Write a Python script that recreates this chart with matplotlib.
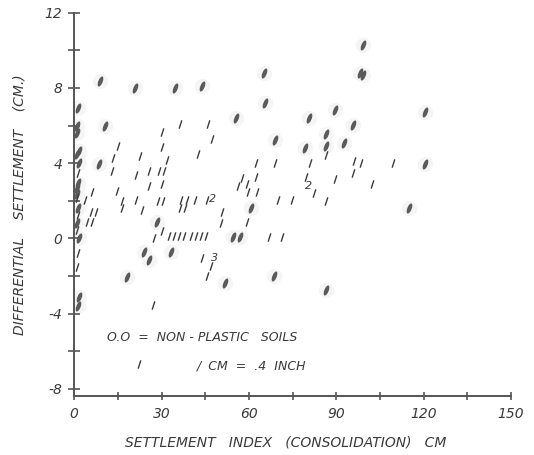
import numpy as np
import matplotlib
matplotlib.use('Agg')
from matplotlib import pyplot as plt
from matplotlib.path import Path
from matplotlib.transforms import Affine2D

# non-plastic soils ("0" marks)
np_x = [8.8, 20.8, 34.6, 43.8, 10.6, 8.6, 28.4, 24.0, 25.7, 33.2, 18.2, 54.5, 56.8,
        60.6, 68.5, 51.7, 86.3, 99.0, 98.2, 99.2, 65.1, 65.4, 55.5, 89.7, 80.5, 95.9,
        86.3, 68.8, 79.1, 86.6, 92.8, 120.5, 120.5, 115.1,
        1.2, 0.8, 0.8, 1.5, 1.0, 1.5, 1.2, 0.8, 1.0, 1.2, 1.0, 1.5, 1.8, 1.2]
np_y = [8.36, 7.97, 7.97, 8.1, 6.0, 3.97, 0.85, -0.74, -1.16, -0.74, -2.06, 0.05, 0.05,
        1.59, -2.0, -2.38, -2.75, 10.3, 8.8, 8.7, 8.78, 7.2, 6.4, 6.83, 6.4, 6.03,
        5.56, 5.24, 4.81, 4.92, 5.08, 6.72, 3.97, 1.59,
        6.93, 5.98, 5.61, 4.66, 4.5, 4.02, 2.96, 2.7, 2.38, 1.59, 0.79, 0.0, -3.12, -3.6]

# plastic soils, single points ("1" marks)
pl_x = [36.3, 45.9, 30.1, 47.3, 15.1, 30.1, 13.4, 22.6, 31.8, 42.5, 13.0, 21.2, 25.7,
        29.1, 30.8, 25.7, 30.1, 6.2, 14.7, 3.8, 16.4, 21.2, 28.8, 30.5, 36.6, 38.7,
        41.4, 45.5, 16.4, 23.3, 36.3, 38.0, 5.8, 7.5, 4.5, 6.2, 30.1, 27.4,
        32.5, 34.2, 35.9, 37.7, 40.1, 41.8, 43.5, 45.2, 43.8, 46.9, 45.5, 27.1, 22.3,
        62.3, 68.8, 80.8, 86.6, 96.2, 98.6, 109.6, 57.5, 62.3, 79.5, 89.7, 95.9,
        56.2, 59.2, 82.2, 59.6, 62.7, 69.9, 74.7, 86.6, 102.1, 50.7, 50.3, 59.2,
        66.8, 71.2,
        1.3, 1.0, 1.2, 1.0, 1.3, 1.1]
pl_y = [6.08, 6.08, 5.66, 5.29, 4.92, 4.87, 4.29, 4.39, 4.18, 4.5, 3.6, 3.39, 3.6,
        3.6, 3.6, 2.8, 2.91, 2.49, 2.54, 2.06, 2.01, 2.06, 2.01, 2.01, 2.06, 2.06,
        2.06, 2.06, 1.59, 1.53, 1.59, 1.59, 1.38, 1.38, 0.85, 0.85, 0.4, 0.0,
        0.1, 0.1, 0.1, 0.1, 0.1, 0.1, 0.1, 0.1, -1.06, -1.48, -2.0, -3.54, -6.7,
        4.02, 4.02, 4.02, 4.42, 4.13, 4.02, 4.02, 3.23, 3.28, 3.28, 3.17, 3.49,
        2.8, 2.91, 2.43, 2.49, 2.49, 2.06, 2.06, 1.96, 2.91, 1.38, 0.79, 0.85,
        0.05, 0.05,
        3.49, 2.12, 1.22, 0.42, -0.79, -1.53]

# multiple plastic points at one spot
multi_x = [47.6, 80.5, 48.3]
multi_y = [2.1, 2.8, -1.06]
multi_n = ['2', '2', '3']

ink = '#3a3a3a'
font = dict(family='DejaVu Sans', style='italic', color=ink)

slash = Path([(-0.32, -1.0), (0.32, 1.0)], [Path.MOVETO, Path.LINETO])
oval = Path.unit_circle().transformed(Affine2D().scale(0.4, 1.0).rotate_deg(-22))

fig = plt.figure(figsize=(5.34, 4.55), dpi=100)
ax = fig.add_axes([0.139, 0.130, 0.818, 0.842])

# faint halo around the non-plastic marks, then the marks
ax.plot(np_x, np_y, linestyle='none', marker='o', markersize=11,
        color='#f5f5f5', markeredgewidth=0, zorder=1)
ax.plot(np_x, np_y, linestyle='none', marker=oval, markersize=7.5,
        color='#5a5a5a', markeredgewidth=0, zorder=2)
ax.plot(pl_x, pl_y, linestyle='none', marker=slash, markersize=6,
        markerfacecolor='none', markeredgecolor=ink, markeredgewidth=1.0, zorder=3)
for x, y, n in zip(multi_x, multi_y, multi_n):
    ax.text(x, y, n, fontsize=8, ha='center', va='center', **font)

ax.text(11.3, -5.27, 'O.O  =  NON - PLASTIC   SOILS', fontsize=9, va='center', **font)
ax.text(42.1, -6.8, '/  CM  =  .4  INCH', fontsize=9, va='center', **font)

ax.set_xlim(0, 150)
ax.set_ylim(-8.38, 12)
ax.set_xticks([0, 30, 60, 90, 120, 150])
ax.set_xticks(np.arange(15, 150, 30), minor=True)
ax.set_yticks([-8, -4, 0, 4, 8, 12])
ax.set_yticks([-6, -2, 2, 6, 10], minor=True)
ax.set_xticklabels(['0', '30', '60', '90', '120', '150'], fontsize=10, **font)
ax.set_yticklabels(['-8', '-4', '0', '4', '8', '12'], fontsize=10, **font)

for s in ['top', 'right']:
    ax.spines[s].set_visible(False)
for s in ['left', 'bottom']:
    ax.spines[s].set_color('#555555')
    ax.spines[s].set_linewidth(1.4)
ax.tick_params(which='both', direction='inout', color='#555555', width=1.2)
ax.tick_params(axis='y', which='both', length=9, pad=4)
ax.tick_params(axis='x', which='both', length=6, pad=5)

fig.text(286 / 534, 1 - 443 / 455, 'SETTLEMENT   INDEX   (CONSOLIDATION)   CM',
         fontsize=10, ha='center', va='center', **font)
fig.text(20 / 534, 1 - 205 / 455, 'DIFFERENTIAL    SETTLEMENT    (CM.)',
         fontsize=10, ha='center', va='center', rotation=90, **font)

fig.savefig('out.png', dpi=100)
